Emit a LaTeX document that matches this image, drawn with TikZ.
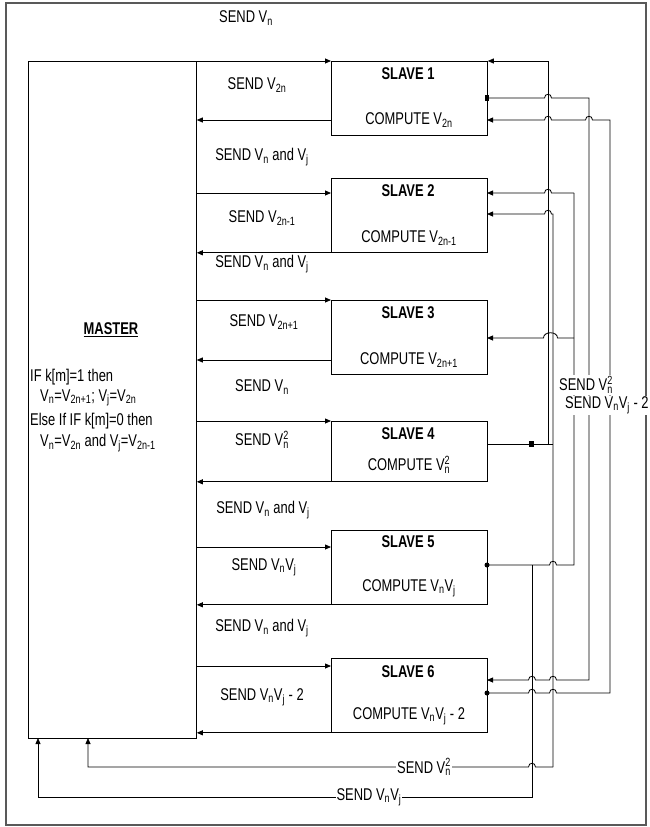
\documentclass[tikz,border=0pt]{standalone}
\usepackage{fontspec}
\setmainfont{Liberation Sans}[FakeStretch=0.76]
\usetikzlibrary{
  arrows.meta,
  positioning
}
\newcommand\Vs[1]{V\textsubscript{#1}}
\newcommand\Vsq{V\rlap{\textsubscript{n}}\textsuperscript{2}}
\tikzset{
  masterbox/.style={
    draw,
    line width=0.8pt,
    minimum width=168pt,
    minimum height=677pt,
    anchor=north west,
    inner sep=0pt,
  },
  slavebox/.style={
    draw,
    line width=0.8pt,
    minimum width=156pt,
    minimum height=74pt,
    anchor=north west,
    inner sep=0pt,
  },
  frame/.style={
    draw=gray!70!black,
    line width=1.3pt,
  },
  wire/.style={
    line width=0.8pt,
  },
  arr/.style={
    wire,
    -{Triangle[length=6pt,width=5pt]},
  },
  lbl/.style={
    font=\fontsize{17}{20}\selectfont,
    inner sep=1pt,
  },
  ttl/.style={
    font=\fontsize{17}{20}\selectfont\bfseries,
    inner sep=1pt,
  },
  buslbl/.style={
    lbl,
    fill=white,
  },
  sqdot/.style={
    fill,
    inner sep=0pt,
    minimum width=4pt,
    minimum height=6pt,
  },
  rdot/.style={
    fill,
    circle,
    inner sep=0pt,
    minimum size=5pt,
  },
}
\begin{document}
\begin{tikzpicture}[x=1pt, y=-1pt]
  \useasboundingbox (0,0) rectangle (649,827);
  \draw[frame] (6,3) rectangle (646,825);

  % Master
  \node[masterbox] (mst) at (28,61) {};
  \node[ttl] (mtitle) at (111,330) {\underline{MASTER}};
  \node[lbl, anchor=west] (if1) at (29,377) {IF k[m]=1 then};
  \node[lbl, anchor=west] (if2) at (39,398) {\Vs{n}=\Vs{2n+1}; \Vs{j}=\Vs{2n}};
  \node[lbl, anchor=west] (if3) at (29,421) {Else If IF k[m]=0 then};
  \node[lbl, anchor=west] (if4) at (39,443) {\Vs{n}=\Vs{2n} and \Vs{j}=\Vs{2n-1}};

  % Slaves
  \node[slavebox] (s1) at (331,61) {};
  \node[slavebox] (s2) at (331,178) {};
  \node[slavebox] (s3) at (331,300) {};
  \node[slavebox, minimum height=60pt] (s4) at (331,421) {};
  \node[slavebox] (s5) at (331,530) {};
  \node[slavebox] (s6) at (331,658) {};

  \node[ttl] at (408,74) {SLAVE 1};
  \node[lbl] at (409,120) {COMPUTE \Vs{2n}};
  \node[ttl] at (408,191) {SLAVE 2};
  \node[lbl] at (409,238) {COMPUTE \Vs{2n-1}};
  \node[ttl] at (408,313) {SLAVE 3};
  \node[lbl] at (409,360) {COMPUTE \Vs{2n+1}};
  \node[ttl] at (408,434) {SLAVE 4};
  \node[lbl] at (409,465) {COMPUTE \Vsq};
  \node[ttl] at (408,542) {SLAVE 5};
  \node[lbl] at (409,588) {COMPUTE \Vs{n}\Vs{j}};
  \node[ttl] at (408,672) {SLAVE 6};
  \node[lbl] at (409,716) {COMPUTE \Vs{n}\Vs{j} - 2};

  % Ports on the slaves
  \coordinate (s1r) at (331,120);
  \coordinate (s2i) at (331,193);
  \coordinate (s3r) at (331,360);
  \coordinate (s5i) at (331,547);
  \coordinate (s6i) at (331,666);
  \coordinate (s1o) at (487,98);
  \coordinate (s1a) at (487,120);
  \coordinate (s2a) at (487,193);
  \coordinate (s2b) at (487,214);
  \coordinate (s3a) at (487,338);
  \coordinate (s4o) at (487,444);
  \coordinate (s5o) at (487,565);
  \coordinate (s6a) at (487,680);
  \coordinate (s6o) at (487,693);

  % Master <-> slaves
  \draw[arr] (mst.north east) -- (s1.north west);
  \draw[arr] (s1r) -- (mst.east |- s1r);
  \draw[arr] (mst.east |- s2i) -- (s2i);
  \draw[arr] (s2.south east) -- (mst.east |- s2.south east);
  \draw[arr] (mst.east |- s3.north west) -- (s3.north west);
  \draw[arr] (s3r) -- (mst.east |- s3r);
  \draw[arr] (mst.east |- s4.north west) -- (s4.north west);
  \draw[arr] (s4.south east) -- (mst.east |- s4.south east);
  \draw[arr] (mst.east |- s5i) -- (s5i);
  \draw[arr] (s5.south east) -- (mst.east |- s5.south east);
  \draw[arr] (mst.east |- s6i) -- (s6i);
  \draw[arr] (s6.south east) -- (mst.east |- s6.south east);

  \node[lbl] at (246,18) {SEND \Vs{n}};
  \node[lbl] at (257,85) {SEND \Vs{2n}};
  \node[lbl] at (262,157) {SEND \Vs{n} and \Vs{j}};
  \node[lbl] at (262,218) {SEND \Vs{2n-1}};
  \node[lbl] at (262,264) {SEND \Vs{n} and \Vs{j}};
  \node[lbl] at (264,322) {SEND \Vs{2n+1}};
  \node[lbl] at (262,387) {SEND \Vs{n}};
  \node[lbl] at (262,440) {SEND \Vsq};
  \node[lbl] at (263,510) {SEND \Vs{n} and \Vs{j}};
  \node[lbl] at (264,567) {SEND \Vs{n}\Vs{j}};
  \node[lbl] at (262,628) {SEND \Vs{n} and \Vs{j}};
  \node[lbl] at (262,697) {SEND \Vs{n}\Vs{j} - 2};

  % Right-hand buses
  \coordinate (busA) at (548,444);
  \coordinate (busB) at (553,767);
  \coordinate (busC) at (532,565);
  \coordinate (busD) at (574,565);

  % slave 4 out -> slave 1, slave 2, master
  \draw[wire] (s4o) -- (s4o -| busB);
  \draw[arr] (busA) |- (s1.north east);
  \draw[arr] (busB) -- (553,214) -- (551.5,214)
    .. controls (551.5,209) and (544.5,209) .. (544.5,214) -- (s2b);
  \draw[arr] (busB) -- (535.5,767)
    .. controls (535.5,762) and (528.5,762) .. (528.5,767) -- (88,767) -- (88,738);

  % slave 5 out -> slave 2, slave 3, master
  \draw[wire] (s5o) -- (549.5,565)
    .. controls (549.5,560) and (556.5,560) .. (556.5,565) -- (busD) -- (574,193);
  \draw[arr] (574,193) -- (551.5,193)
    .. controls (551.5,188) and (544.5,188) .. (544.5,193) -- (s2a);
  \draw[arr] (574,338) -- (557.5,338)
    .. controls (557.5,331) and (543.5,331) .. (543.5,338) -- (s3a);
  \draw[arr] (busC) -- (532,797) -- (38,797) -- (38,738);

  % slave 1 out -> slave 6
  \draw[arr] (s1o) -- (544.5,98)
    .. controls (544.5,93) and (551.5,93) .. (551.5,98) -- (589,98) -- (589,680)
    -- (556.5,680) .. controls (556.5,675) and (549.5,675) .. (549.5,680)
    -- (535.5,680) .. controls (535.5,675) and (528.5,675) .. (528.5,680) -- (s6a);

  % slave 6 out -> slave 1
  \draw[arr] (s6o) -- (528.5,693)
    .. controls (528.5,688) and (535.5,688) .. (535.5,693)
    -- (549.5,693) .. controls (549.5,688) and (556.5,688) .. (556.5,693)
    -- (610,693) -- (610,120)
    -- (592.5,120) .. controls (592.5,115) and (585.5,115) .. (585.5,120)
    -- (551.5,120) .. controls (551.5,115) and (544.5,115) .. (544.5,120) -- (s1a);

  % markers
  \node[sqdot] (m1) at (s1o) {};
  \node[sqdot, minimum width=5pt] (m4) at (531,444) {};
  \node[rdot] (m5) at (s5o) {};
  \node[rdot] (m6) at (s6o) {};

  % bus labels
  \node[buslbl, anchor=west] (bl1) at (558,385) {SEND \Vsq};
  \node[buslbl, anchor=west] (bl2) at (564,405) {SEND \Vs{n}\Vs{j} - 2};
  \node[buslbl] (bl3) at (424,767) {SEND \Vsq};
  \node[buslbl] (bl4) at (369,797) {SEND \Vs{n}\Vs{j}};
\end{tikzpicture}
\end{document}
